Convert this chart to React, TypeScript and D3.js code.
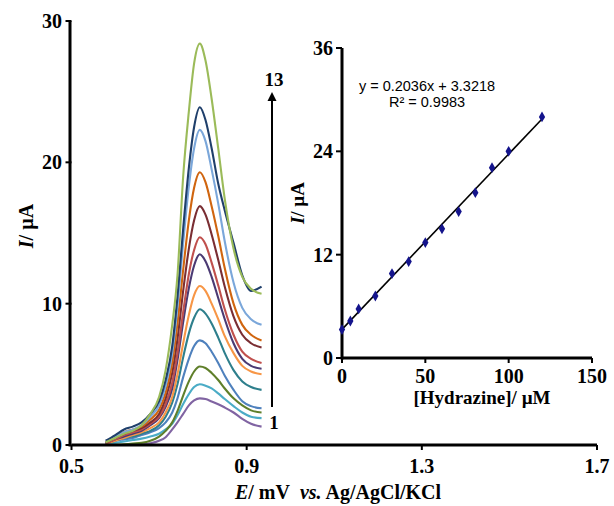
import React from "react";
import * as d3 from "d3";

// Potential grid (V) shared by all voltammograms
const potentials = [0.578, 0.6, 0.62, 0.64, 0.66, 0.68, 0.7, 0.715, 0.73, 0.742, 0.755, 0.768, 0.78, 0.793, 0.806, 0.82, 0.835, 0.85, 0.87, 0.89, 0.91, 0.934];

// Currents (µA) for curves 1..13
const curve1 = [0.0, 0.0, 0.0, 0.02, 0.05, 0.12, 0.3, 0.55, 1.1, 1.6, 2.2, 2.8, 3.15, 3.3, 3.25, 3.08, 2.88, 2.65, 2.3, 1.85, 1.5, 1.3];
const curve2 = [0.05, 0.15, 0.25, 0.35, 0.45, 0.6, 0.8, 1.1, 1.5, 2.1, 2.9, 3.6, 4.1, 4.3, 4.2, 4.0, 3.65, 3.25, 2.75, 2.3, 2.0, 1.9];
const curve3 = [0.0, 0.0, 0.05, 0.1, 0.15, 0.3, 0.6, 1.0, 1.6, 2.4, 3.5, 4.5, 5.2, 5.55, 5.45, 5.1, 4.6, 4.0, 3.3, 2.8, 2.45, 2.3];
const curve4 = [0.1, 0.3, 0.4, 0.5, 0.7, 0.9, 1.2, 1.6, 2.3, 3.3, 4.8, 6.1, 7.0, 7.4, 7.2, 6.6, 5.8, 4.9, 3.9, 3.1, 2.75, 2.6];
const curve5 = [0.1, 0.3, 0.5, 0.6, 0.8, 1.0, 1.4, 2.0, 3.0, 4.3, 6.2, 7.9, 9.0, 9.6, 9.3, 8.6, 7.6, 6.5, 5.3, 4.5, 4.1, 3.9];
const curve6 = [0.1, 0.3, 0.5, 0.7, 0.9, 1.2, 1.6, 2.3, 3.4, 5.0, 7.2, 9.2, 10.6, 11.25, 10.9, 10.0, 8.9, 7.7, 6.5, 5.6, 5.2, 5.0];
const curve7 = [0.1, 0.4, 0.6, 0.8, 1.0, 1.4, 1.9, 2.7, 4.0, 6.0, 8.7, 11.1, 12.7, 13.5, 13.0, 11.9, 10.4, 8.9, 7.2, 6.1, 5.6, 5.4];
const curve8 = [0.1, 0.4, 0.7, 0.9, 1.1, 1.5, 2.0, 2.9, 4.4, 6.5, 9.4, 12.1, 13.8, 14.7, 14.2, 12.9, 11.3, 9.6, 7.8, 6.6, 6.1, 5.8];
const curve9 = [0.2, 0.5, 0.8, 1.0, 1.2, 1.6, 2.2, 3.3, 5.1, 7.5, 10.9, 13.9, 15.9, 16.9, 16.3, 14.9, 13.1, 11.2, 9.1, 7.8, 7.2, 6.9];
const curve10 = [0.2, 0.6, 0.9, 1.1, 1.3, 1.8, 2.5, 3.7, 5.8, 8.6, 12.4, 15.9, 18.2, 19.3, 18.6, 16.9, 14.8, 12.5, 10.0, 8.5, 7.8, 7.4];
const curve11 = [0.2, 0.6, 0.9, 1.1, 1.4, 2.0, 2.8, 4.2, 6.5, 9.8, 14.3, 18.3, 21.0, 22.3, 21.5, 19.5, 17.1, 14.4, 11.5, 9.7, 8.9, 8.5];
const curve12 = [0.3, 0.7, 1.1, 1.3, 1.6, 2.2, 3.1, 4.6, 7.0, 10.5, 15.3, 19.6, 22.5, 23.9, 23.0, 21.0, 18.5, 16.6, 14.3, 12.0, 10.9, 11.2];
const curve13 = [0.2, 0.5, 0.8, 1.0, 1.4, 2.2, 3.4, 5.3, 8.5, 12.0, 19.0, 23.6, 27.0, 28.4, 27.2, 24.5, 21.0, 17.4, 13.9, 11.9, 11.05, 10.7];

const curves = [curve1, curve2, curve3, curve4, curve5, curve6, curve7, curve8, curve9, curve10, curve11, curve12, curve13];
const curveColors = ["#8064A2", "#4BACC6", "#5F7F2A", "#4F81BD", "#2E7F8C", "#F79646", "#4B3A73", "#C0504D", "#7A2E33", "#D0650F", "#7BA7DA", "#1F3F6B", "#9BBB59"];

const mainXTicks = [0.5, 0.9, 1.3, 1.7];
const mainYTicks = [0, 10, 20, 30];

// Inset calibration
const concentrations = [0, 5, 10, 20, 30, 40, 50, 60, 70, 80, 90, 100, 120];
const peakCurrents = [3.3, 4.3, 5.7, 7.2, 9.8, 11.2, 13.4, 15.0, 17.0, 19.2, 22.1, 24.0, 28.0];
const fitSlope = 0.2036;
const fitIntercept = 3.3218;
const insetXTicks = [0, 50, 100, 150];
const insetYTicks = [0, 12, 24, 36];

const serif = "'Liberation Serif', 'Times New Roman', serif";
const sans = "'Liberation Sans', Arial, sans-serif";

export default function App() {
  const x = d3.scaleLinear().domain([0.5, 1.7]).range([71.5, 597]);
  const y = d3.scaleLinear().domain([0, 30]).range([445, 21]);
  const xi = d3.scaleLinear().domain([0, 150]).range([342, 592]);
  const yi = d3.scaleLinear().domain([0, 36]).range([358, 48]);

  const line = d3
    .line<number>()
    .x((_, i) => x(potentials[i]))
    .y((d) => y(d))
    .curve(d3.curveMonotoneX);

  const fitLine = d3
    .line<number>()
    .x((c) => xi(c))
    .y((c) => yi(fitSlope * c + fitIntercept));

  const diamond = d3.symbol().type(d3.symbolDiamond).size(34)() as string;

  const arrowX = 272;

  return (
    <svg width={614} height={506} style={{ position: "absolute", left: 0, top: 0, background: "#fff" }}>
      {/* voltammograms */}
      <g fill="none" strokeWidth={2.1} strokeLinejoin="round">
        {curves.map((c, i) => (
          <path key={i} d={line(c) as string} stroke={curveColors[i]} />
        ))}
      </g>

      {/* main axes */}
      <line x1={x(0.5)} x2={x(1.7)} y1={y(0)} y2={y(0)} stroke="#000" strokeWidth={3} />
      <line x1={x(0.5) - 1.5} x2={x(0.5) - 1.5} y1={y(0) + 1.5} y2={y(30)} stroke="#000" strokeWidth={3} />
      {mainYTicks.map((t) => (
        <g key={t}>
          <line x1={x(0.5) - 6} x2={x(0.5)} y1={y(t)} y2={y(t)} stroke="#000" strokeWidth={2} />
          <text x={62} y={y(t)} dy="0.35em" textAnchor="end" fontFamily={serif} fontWeight="bold" fontSize={20}>
            {t}
          </text>
        </g>
      ))}
      {mainXTicks.map((t) => (
        <g key={t}>
          <line x1={x(t)} x2={x(t)} y1={y(0)} y2={y(0) + 5} stroke="#000" strokeWidth={2} />
          <text x={x(t)} y={466} dy="0.35em" textAnchor="middle" fontFamily={serif} fontWeight="bold" fontSize={20}>
            {t}
          </text>
        </g>
      ))}
      <text x={26} y={226} transform="rotate(-90 26 226)" dy="0.35em" textAnchor="middle" fontFamily={serif} fontWeight="bold" fontSize={20}>
        <tspan fontStyle="italic">I</tspan>/ µA
      </text>
      <text x={338} y={492} dy="0.35em" textAnchor="middle" fontFamily={serif} fontWeight="bold" fontSize={20}>
        <tspan fontStyle="italic">E</tspan>
        <tspan>/ mV</tspan>
        <tspan dx={10} fontStyle="italic">vs.</tspan>
        <tspan> Ag/AgCl/KCl</tspan>
      </text>

      {/* arrow */}
      <line x1={arrowX} x2={arrowX} y1={407} y2={100} stroke="#000" strokeWidth={2} />
      <path d={`M${arrowX - 4.5},${101} L${arrowX},${92} L${arrowX + 4.5},${101} Z`} fill="#000" />
      <text x={arrowX + 2} y={79} dy="0.35em" textAnchor="middle" fontFamily={serif} fontWeight="bold" fontSize={19}>
        13
      </text>
      <text x={arrowX + 2} y={422} dy="0.35em" textAnchor="middle" fontFamily={serif} fontWeight="bold" fontSize={19}>
        1
      </text>

      {/* inset */}
      <line x1={xi(0)} x2={xi(150)} y1={yi(0)} y2={yi(0)} stroke="#000" strokeWidth={3} />
      <line x1={xi(0)} x2={xi(0)} y1={yi(0) + 1.5} y2={yi(36)} stroke="#000" strokeWidth={3} />
      {insetYTicks.map((t) => (
        <g key={t}>
          <line x1={xi(0) - 6} x2={xi(0)} y1={yi(t)} y2={yi(t)} stroke="#000" strokeWidth={2} />
          <text x={333} y={yi(t)} dy="0.35em" textAnchor="end" fontFamily={serif} fontWeight="bold" fontSize={20}>
            {t}
          </text>
        </g>
      ))}
      {insetXTicks.map((t) => (
        <g key={t}>
          <line x1={xi(t)} x2={xi(t)} y1={yi(0)} y2={yi(0) + 5} stroke="#000" strokeWidth={2} />
          <text x={xi(t)} y={376} dy="0.35em" textAnchor="middle" fontFamily={serif} fontWeight="bold" fontSize={20}>
            {t}
          </text>
        </g>
      ))}
      <text x={297} y={203} transform="rotate(-90 297 203)" dy="0.35em" textAnchor="middle" fontFamily={serif} fontWeight="bold" fontSize={19}>
        <tspan fontStyle="italic">I</tspan>/ µA
      </text>
      <text x={482} y={397} dy="0.35em" textAnchor="middle" fontFamily={serif} fontWeight="bold" fontSize={19}>
        [Hydrazine]/ µM
      </text>
      <path d={fitLine([0, 120]) as string} stroke="#000" strokeWidth={1.6} fill="none" />
      {concentrations.map((c, i) => (
        <path key={c} d={diamond} transform={`translate(${xi(c)},${yi(peakCurrents[i])})`} fill="#14148c" />
      ))}
      <text x={427} y={86} dy="0.35em" textAnchor="middle" fontFamily={sans} fontSize={14.5}>
        y = 0.2036x + 3.3218
      </text>
      <text x={427} y={102} dy="0.35em" textAnchor="middle" fontFamily={sans} fontSize={14.5}>
        R² = 0.9983
      </text>
    </svg>
  );
}
